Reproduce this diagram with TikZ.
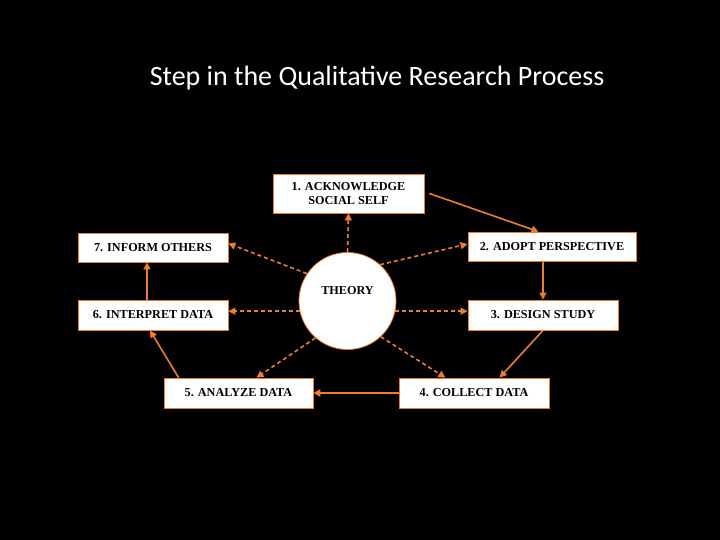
\documentclass[tikz,border=0pt]{standalone}
\usepackage{fontspec}
\setmainfont{Liberation Serif}
\newfontfamily\titlefont{Carlito}
\usetikzlibrary{calc,arrows.meta}
\definecolor{org}{RGB}{237,125,49}
\begin{document}
\begin{tikzpicture}[x=1pt,y=-1pt,
 box/.style={draw=org, fill=white, line width=0.8pt, inner sep=0pt, font=\bfseries\fontsize{12.2}{14.5}\selectfont, align=center},
 flow/.style={draw=org, line width=1.6pt, -{Triangle[length=7pt,width=7pt]}},
 dflow/.style={flow, dash pattern=on 4pt off 3pt}]
\fill[black] (0,0) rectangle (720,540);
\useasboundingbox (0,0) rectangle (720,540);
\node[font=\titlefont\fontsize{28}{32}\selectfont, text=white] (title) at (377,78) {Step in the Qualitative Research Process};
\node[box, minimum width=151pt, minimum height=39pt] (b1) at (348.5,193.5) {1. ACKNOWLEDGE\\SOCIAL SELF};
\node[box, minimum width=168pt, minimum height=29pt] (b2) at (552,246.5) {2. ADOPT PERSPECTIVE};
\node[box, minimum width=150pt, minimum height=30pt] (b3) at (543,315) {3. DESIGN STUDY};
\node[box, minimum width=150pt, minimum height=30pt] (b4) at (474,393) {4. COLLECT DATA};
\node[box, minimum width=149pt, minimum height=30pt] (b5) at (238.5,393) {5. ANALYZE DATA};
\node[box, minimum width=150pt, minimum height=30pt] (b6) at (153,315) {6. INTERPRET DATA};
\node[box, minimum width=150pt, minimum height=29pt] (b7) at (153,247.5) {7. INFORM OTHERS};
\node[circle, draw=org, fill=white, line width=0.8pt, minimum size=97pt, inner sep=0pt] (th) at (347.5,301) {};
\node[font=\bfseries\fontsize{12.2}{14.5}\selectfont] (thl) at (347.5,291) {THEORY};
% solid cycle
\draw[flow] ([xshift=5pt]b1.east) -- ($(b2.north west)!0.42!(b2.north east)$);
\draw[flow] (b3.north |- b2.south) -- (b3.north);
\draw[flow] (b3.south) -- ($(b4.north west)!0.67!(b4.north east)$);
\draw[flow] (b4.west) -- (b5.east);
\draw[flow] ($(b5.north west)!0.1!(b5.north east)$) -- ([xshift=-3pt]b6.south);
\draw[flow] ([xshift=-6pt]b6.north) -- ([xshift=-6pt]b7.south);
% dashed from theory
\draw[dflow] (th.north) -- (b1.south);
\draw[dflow] (th.48) -- ([yshift=2.5pt]b2.west);
\draw[dflow] (th.-12) -- (th.-12 -| b3.west);
\draw[dflow] (th.-47) -- ($(b4.north west)!0.31!(b4.north east)$);
\draw[dflow] (th.-131) -- ($(b5.north west)!0.62!(b5.north east)$);
\draw[dflow] (th.192) -- (th.192 -| b6.east);
\draw[dflow] (th.146) -- ([yshift=4pt]b7.east);
\end{tikzpicture}
\end{document}
